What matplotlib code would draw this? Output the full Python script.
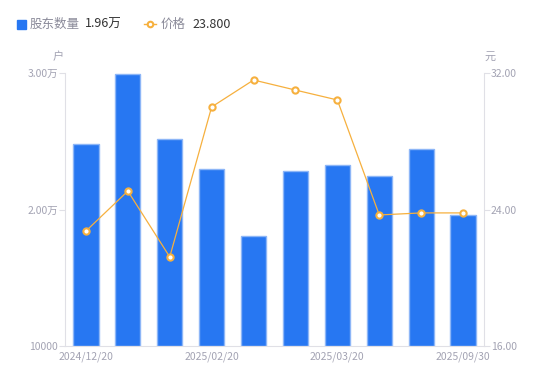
import matplotlib
matplotlib.use("Agg")
import matplotlib.pyplot as plt
from matplotlib.lines import Line2D

plt.rcParams['font.family'] = ['Noto Sans CJK SC', 'DejaVu Sans']

dates = ["2024/12/20", "2024/12/31", "2025/01/10", "2025/02/20", "2025/02/28",
         "2025/03/10", "2025/03/20", "2025/06/30", "2025/08/31", "2025/09/30"]
holders = [24800, 29930, 25170, 22970, 18060, 22820, 23260, 22450, 24430, 19600]
prices = [22.74, 25.08, 21.22, 30.01, 31.59, 31.00, 30.42, 23.68, 23.80, 23.80]
shown_ticks = [0, 3, 6, 9]
left_ticks = [10000, 20000, 30000]
left_labels = ["10000", "2.00万", "3.00万"]
right_ticks = [16, 24, 32]
right_labels = ["16.00", "24.00", "32.00"]

BLUE = "#2777F2"
EDGE = "#8DB6F7"
ORANGE = "#F6B03E"
GRAY = "#A3A3B3"
AX = "#E0E0E6"

fig = plt.figure(figsize=(5.5, 3.81), dpi=100)
ax = fig.add_axes([65/550, 1-346/381, (484-65)/550, (346-73)/381])
x = list(range(len(dates)))
ax.bar(x, [h - 10000 for h in holders], bottom=10000, width=0.6, color=BLUE,
       edgecolor=EDGE, linewidth=1.0, zorder=2)
ax.set_xlim(-0.5, len(dates) - 0.5)
ax.set_ylim(10000, 30000)
ax.set_yticks(left_ticks)
ax.set_yticklabels(left_labels)
ax.set_xticks(shown_ticks)
ax.set_xticklabels([dates[i] for i in shown_ticks])

ax2 = ax.twinx()
ax2.plot(x, prices, color=ORANGE, linewidth=0.9, marker='o', markersize=4.5,
         markerfacecolor='white', markeredgecolor=ORANGE, markeredgewidth=1.5, zorder=3)
ax2.set_ylim(16, 32)
ax2.set_yticks(right_ticks)
ax2.set_yticklabels(right_labels)

for a in (ax, ax2):
    for s in a.spines.values():
        s.set_visible(False)
ax.spines['left'].set_visible(True)
ax.spines['left'].set_color(AX)
ax.spines['bottom'].set_visible(True)
ax.spines['bottom'].set_color(AX)
ax2.spines['right'].set_visible(True)
ax2.spines['right'].set_color(AX)

ax.tick_params(axis='y', colors=AX, labelcolor=GRAY, labelsize=7.5, length=4, width=0.8, pad=1)
ax.tick_params(axis='x', length=0, labelcolor=GRAY, labelsize=7.5, pad=4)
ax2.tick_params(axis='y', colors=AX, labelcolor=GRAY, labelsize=7.5, length=4, width=0.8, pad=1)

fig.text(58/550, 1-57/381, "户", color=GRAY, fontsize=8, ha='center', va='center')
fig.text(490/550, 1-57/381, "元", color=GRAY, fontsize=8, ha='center', va='center')

# legend
fig.patches.append(plt.Rectangle((17/550, 1-29/381), 9/550, 9/381, transform=fig.transFigure,
                                 color=BLUE, figure=fig))
fig.text(30/550, 1-24/381, "股东数量", color="#8A8A99", fontsize=9, va='center')
fig.text(85/550, 1-24/381, "1.96万", color="#333333", fontsize=9, va='center')
fig.lines.append(Line2D([144/550, 156/550], [1-24/381, 1-24/381], transform=fig.transFigure,
                        color=ORANGE, linewidth=1.0))
fig.lines.append(Line2D([150/550], [1-24/381], transform=fig.transFigure, linestyle='none',
                        marker='o', markersize=4, markerfacecolor='white',
                        markeredgecolor=ORANGE, markeredgewidth=1.5))
fig.text(161/550, 1-24/381, "价格", color="#8A8A99", fontsize=9, va='center')
fig.text(192/550, 1-24/381, "23.800", color="#333333", fontsize=9, va='center')

fig.savefig("out.png", dpi=100)
